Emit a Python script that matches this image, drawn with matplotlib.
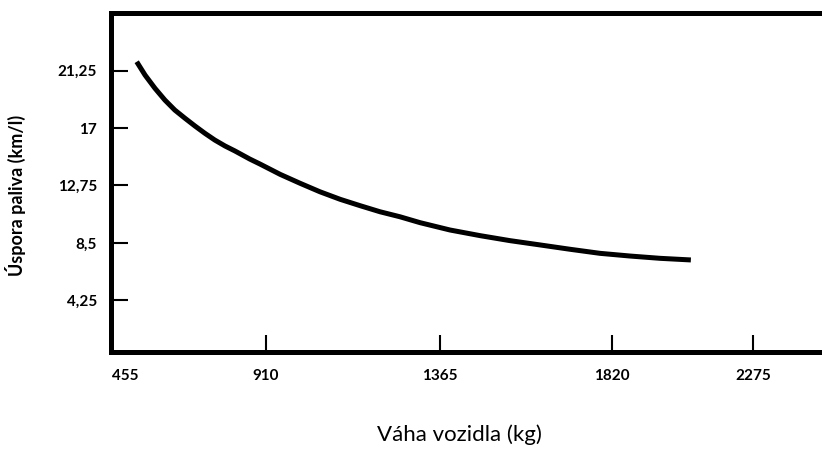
import matplotlib
matplotlib.use("Agg")
import matplotlib.pyplot as plt
import numpy as np

# curve
weight_kg = [493, 520, 552, 584, 616, 649, 681, 713, 745, 778, 810, 858, 891, 947, 999,
             1051, 1104, 1156, 1208, 1260, 1313, 1391, 1471, 1550, 1630, 1709, 1788,
             1878, 1975, 2074]
economy_kml = [21.91, 20.92, 19.94, 19.07, 18.33, 17.72, 17.15, 16.61, 16.11, 15.67,
               15.30, 14.70, 14.33, 13.57, 12.91, 12.28, 11.72, 11.25, 10.80, 10.43, 9.99,
               9.45, 9.03, 8.66, 8.34, 8.02, 7.72, 7.52, 7.35, 7.23]

x_ticks = [455, 910, 1365, 1820, 2275]
x_labels = ["455", "910", "1365", "1820", "2275"]
y_ticks = [4.25, 8.5, 12.75, 17, 21.25]
y_labels = ["4,25", "8,5", "12,75", "17", "21,25"]

# the x axis in the original is hand spaced, not even
knot_kg = np.array([0, 455, 910, 1365, 1820, 2275, 2730, 3185])
knot_pos = np.array([-16, 125, 266, 440, 612, 753, 894, 1035], dtype=float)


def fwd(x):
    return np.interp(x, knot_kg, knot_pos)


def inv(p):
    return np.interp(p, knot_pos, knot_kg)


plt.rcParams["font.family"] = ["Lato", "DejaVu Sans"]

fig = plt.figure(figsize=(8.22, 4.5), dpi=100)
ax = fig.add_axes([0.135, 0.218, 0.865, 0.754])

ax.plot(weight_kg, economy_kml, color="black", lw=3.6,
        solid_capstyle="butt", solid_joinstyle="round")

ax.set_xscale("function", functions=(fwd, inv))
ax.set_xlim(410, 2497)
ax.set_ylim(0.42, 25.55)

ax.set_xticks(x_ticks)
ax.set_xticklabels(x_labels, fontsize=11, fontweight="bold")
ax.set_yticks(y_ticks)
ax.set_yticklabels(y_labels, fontsize=11, fontweight="bold")
ax.xaxis.set_minor_locator(plt.NullLocator())

ax.tick_params(axis="both", direction="in", length=12, width=1.5, color="black")
ax.tick_params(axis="x", pad=12)
ax.tick_params(axis="y", pad=10)
ax.xaxis.get_major_ticks()[0].tick1line.set_visible(False)

for side in ["left", "top", "bottom"]:
    ax.spines[side].set_linewidth(3.6)
    ax.spines[side].set_color("black")
ax.spines["right"].set_visible(False)

ax.set_xlabel("Váha vozidla (kg)", fontsize=16)
ax.xaxis.set_label_coords(0.49, -0.213)
ax.set_ylabel("Úspora paliva (km/l)", fontsize=13, fontweight="bold")
ax.yaxis.set_label_coords(-0.12, 0.46)

fig.savefig("out.png", dpi=100)
